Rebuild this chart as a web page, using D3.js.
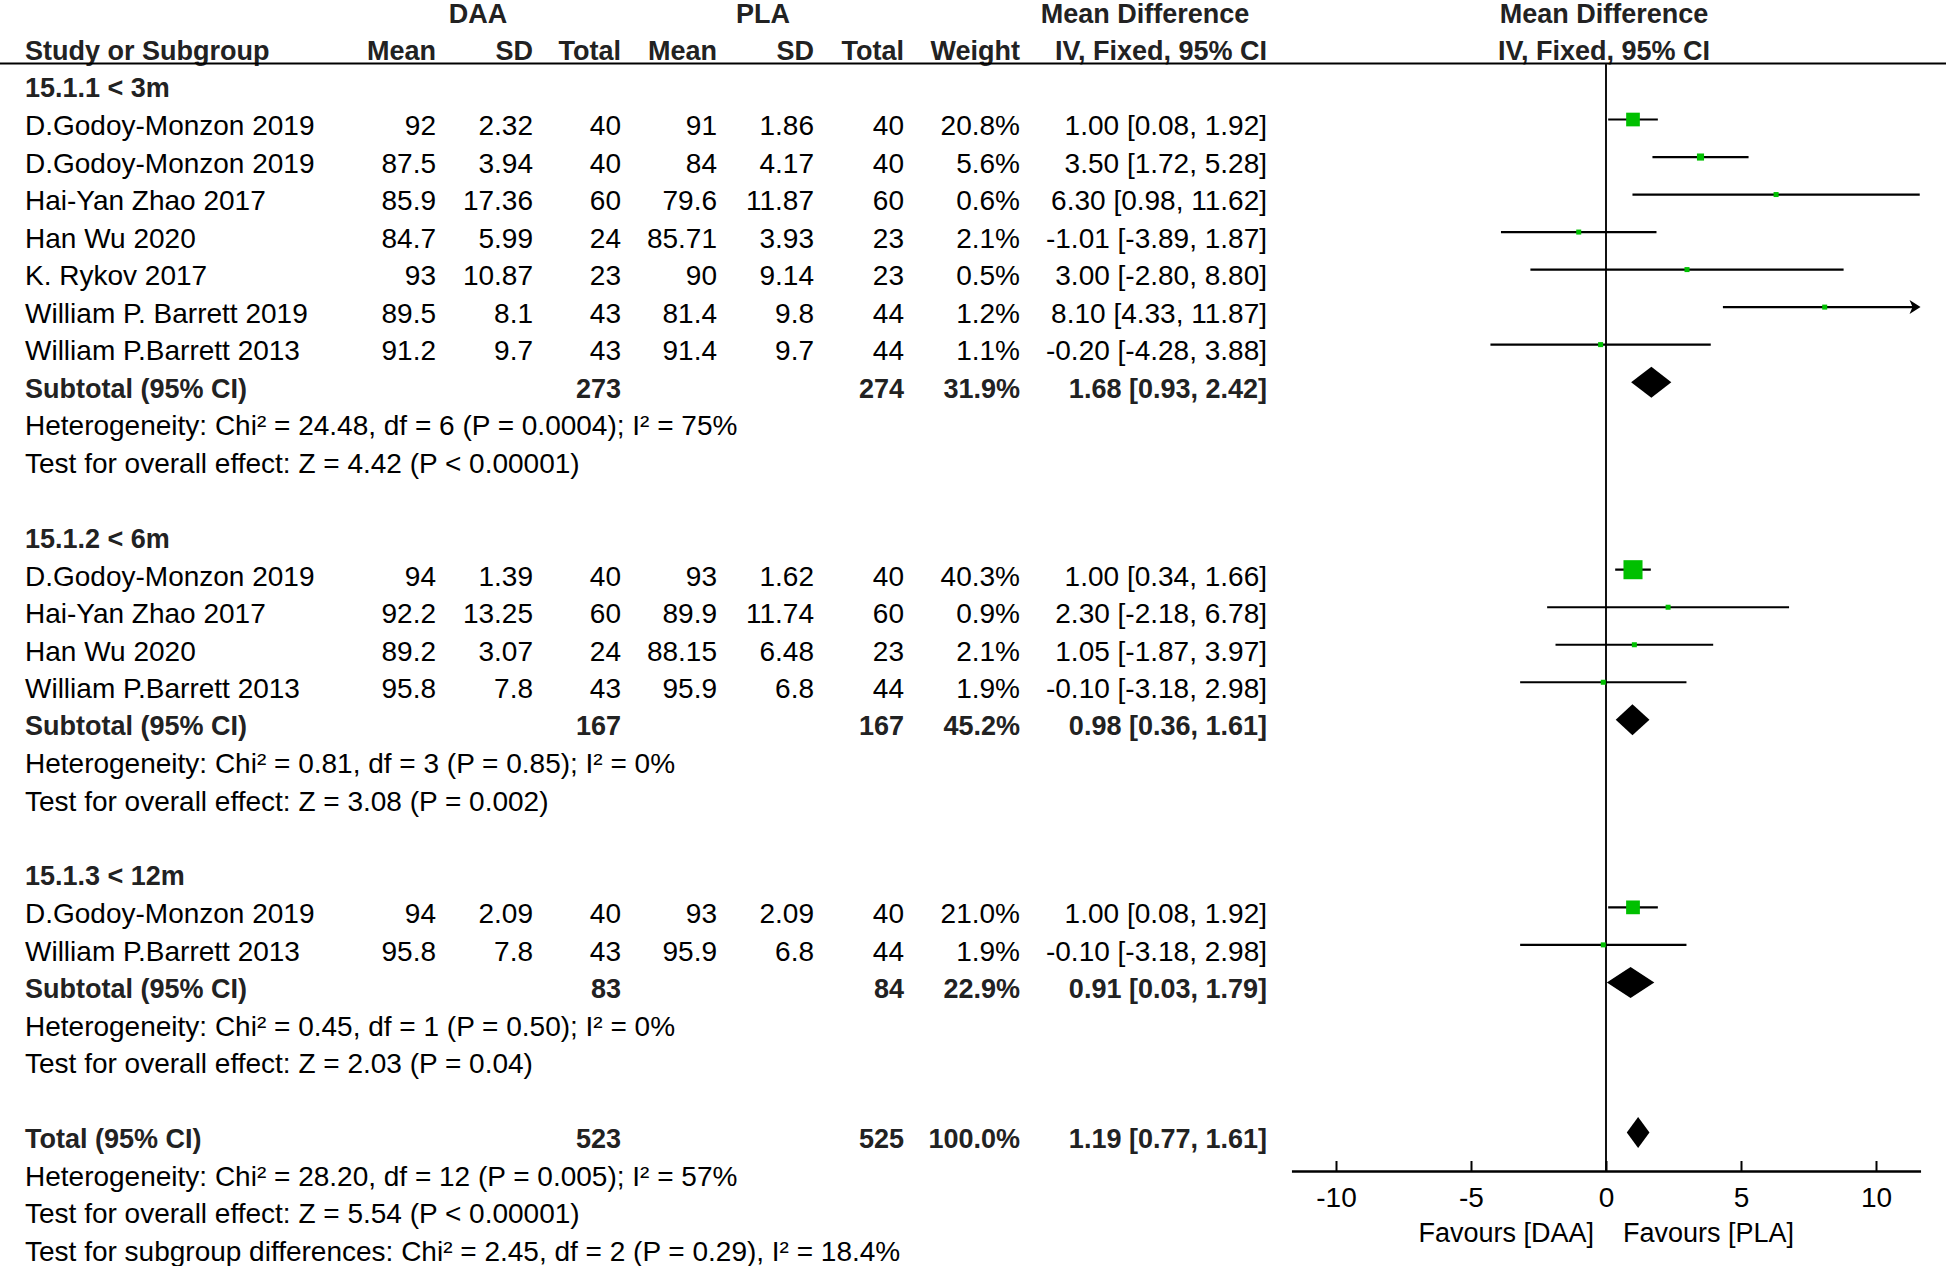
<!DOCTYPE html>
<meta charset="utf-8">
<style>
body { margin: 0; background: #fff; }
svg text { font-family: "Liberation Sans", Arial, sans-serif; font-size: 28px; fill: #000; }
svg text.b { font-weight: bold; font-size: 27px; fill: #222; }
</style>
<svg width="1946" height="1266"></svg>
<script src="https://d3js.org/d3.v7.min.js"></script>
<script>
// ---- data ----
var groupLabels = ["15.1.1 < 3m", "15.1.2 < 6m", "15.1.3 < 12m"];
var studyGroup = [0, 0, 0, 0, 0, 0, 0, 1, 1, 1, 1, 2, 2];
var studyNames = ["D.Godoy-Monzon 2019", "D.Godoy-Monzon 2019", "Hai-Yan Zhao 2017", "Han Wu 2020",
  "K. Rykov 2017", "William P. Barrett 2019", "William P.Barrett 2013",
  "D.Godoy-Monzon 2019", "Hai-Yan Zhao 2017", "Han Wu 2020", "William P.Barrett 2013",
  "D.Godoy-Monzon 2019", "William P.Barrett 2013"];
var daaMean = [92, 87.5, 85.9, 84.7, 93, 89.5, 91.2, 94, 92.2, 89.2, 95.8, 94, 95.8];
var daaSD = [2.32, 3.94, 17.36, 5.99, 10.87, 8.1, 9.7, 1.39, 13.25, 3.07, 7.8, 2.09, 7.8];
var daaN = [40, 40, 60, 24, 23, 43, 43, 40, 60, 24, 43, 40, 43];
var plaMean = [91, 84, 79.6, 85.71, 90, 81.4, 91.4, 93, 89.9, 88.15, 95.9, 93, 95.9];
var plaSD = [1.86, 4.17, 11.87, 3.93, 9.14, 9.8, 9.7, 1.62, 11.74, 6.48, 6.8, 2.09, 6.8];
var plaN = [40, 40, 60, 23, 23, 44, 44, 40, 60, 23, 44, 40, 44];
var weight = [20.8, 5.6, 0.6, 2.1, 0.5, 1.2, 1.1, 40.3, 0.9, 2.1, 1.9, 21.0, 1.9];
var md = [1.00, 3.50, 6.30, -1.01, 3.00, 8.10, -0.20, 1.00, 2.30, 1.05, -0.10, 1.00, -0.10];
var ciLow = [0.08, 1.72, 0.98, -3.89, -2.80, 4.33, -4.28, 0.34, -2.18, -1.87, -3.18, 0.08, -3.18];
var ciHigh = [1.92, 5.28, 11.62, 1.87, 8.80, 11.87, 3.88, 1.66, 6.78, 3.97, 2.98, 1.92, 2.98];

var subDaaN = [273, 167, 83];
var subPlaN = [274, 167, 84];
var subWeight = [31.9, 45.2, 22.9];
var subMd = [1.68, 0.98, 0.91];
var subLow = [0.93, 0.36, 0.03];
var subHigh = [2.42, 1.61, 1.79];
var subHet = ["Heterogeneity: Chi² = 24.48, df = 6 (P = 0.0004); I² = 75%",
  "Heterogeneity: Chi² = 0.81, df = 3 (P = 0.85); I² = 0%",
  "Heterogeneity: Chi² = 0.45, df = 1 (P = 0.50); I² = 0%"];
var subTest = ["Test for overall effect: Z = 4.42 (P < 0.00001)",
  "Test for overall effect: Z = 3.08 (P = 0.002)",
  "Test for overall effect: Z = 2.03 (P = 0.04)"];

var totalDaaN = 523, totalPlaN = 525, totalWeight = 100.0;
var totalMd = 1.19, totalLow = 0.77, totalHigh = 1.61;
var totalNotes = ["Heterogeneity: Chi² = 28.20, df = 12 (P = 0.005); I² = 57%",
  "Test for overall effect: Z = 5.54 (P < 0.00001)",
  "Test for subgroup differences: Chi² = 2.45, df = 2 (P = 0.29), I² = 18.4%"];

var tickValues = [-10, -5, 0, 5, 10];
var axisLimit = 11.65;

// ---- layout ----
var svg = d3.select("svg"),
    width = +svg.attr("width"),
    height = +svg.attr("height");

// plain hyphen for negatives, like RevMan
var loc = d3.formatLocale({decimal: ".", thousands: ",", grouping: [3], currency: ["", ""], minus: "-"});
var f2 = loc.format(".2f"), f1 = loc.format(".1f");
function ciText(m, lo, hi) { return f2(m) + " [" + f2(lo) + ", " + f2(hi) + "]"; }

// one entry per text line of the table
var lines = [];
groupLabels.forEach(function(g, gi) {
  lines.push({type: "group", g: gi});
  studyNames.forEach(function(n, i) { if (studyGroup[i] === gi) lines.push({type: "study", i: i}); });
  lines.push({type: "sub", g: gi});
  lines.push({type: "note", text: subHet[gi]});
  lines.push({type: "note", text: subTest[gi]});
  if (gi < groupLabels.length - 1) lines.push({type: "blank"});
});
lines.push({type: "blank"});
lines.push({type: "total"});
totalNotes.forEach(function(t) { lines.push({type: "note", text: t}); });

var y = d3.scaleLinear().domain([0, lines.length - 1]).range([88, 1251]);
var x = d3.scaleLinear().domain([-axisLimit, axisLimit]).range([1606 - 27 * axisLimit, 1606 + 27 * axisLimit]);
var markShift = -6;
var axisY = 1171, headLine = 63.5;

var colX = {dMean: 436, dSD: 533, dN: 621, pMean: 717, pSD: 814, pN: 904, w: 1020, ci: 1267};
var nameX = 25;

// headers
svg.append("text").attr("class", "b").attr("x", 478).attr("y", 14).attr("dy", "0.35em").attr("text-anchor", "middle").text("DAA");
svg.append("text").attr("class", "b").attr("x", 763).attr("y", 14).attr("dy", "0.35em").attr("text-anchor", "middle").text("PLA");
svg.append("text").attr("class", "b").attr("x", 1145).attr("y", 14).attr("dy", "0.35em").attr("text-anchor", "middle").text("Mean Difference");
svg.append("text").attr("class", "b").attr("x", x(0) - 2).attr("y", 14).attr("dy", "0.35em").attr("text-anchor", "middle").text("Mean Difference");
svg.append("text").attr("class", "b").attr("x", nameX).attr("y", 51).attr("dy", "0.35em").text("Study or Subgroup");
[["dMean", "Mean"], ["dSD", "SD"], ["dN", "Total"], ["pMean", "Mean"], ["pSD", "SD"], ["pN", "Total"], ["w", "Weight"], ["ci", "IV, Fixed, 95% CI"]]
  .forEach(function(h) {
    svg.append("text").attr("class", "b").attr("x", colX[h[0]]).attr("y", 51).attr("dy", "0.35em")
      .attr("text-anchor", "end").text(h[1]);
  });
svg.append("text").attr("class", "b").attr("x", x(0) - 2).attr("y", 51).attr("dy", "0.35em").attr("text-anchor", "middle").text("IV, Fixed, 95% CI");

svg.append("line").attr("x1", 0).attr("x2", width).attr("y1", headLine).attr("y2", headLine)
  .attr("stroke", "#000").attr("stroke-width", 2);

// table rows
var table = svg.append("g");
function cell(i, key, str, bold) {
  table.append("text").attr("class", bold ? "b" : null)
    .attr("x", colX[key]).attr("y", y(i)).attr("dy", "0.35em")
    .attr("text-anchor", "end").text(str);
}
function left(i, str, bold) {
  table.append("text").attr("class", bold ? "b" : null)
    .attr("x", nameX).attr("y", y(i)).attr("dy", "0.35em").text(str);
}

lines.forEach(function(l, li) {
  if (l.type === "group") left(li, groupLabels[l.g], true);
  else if (l.type === "note") left(li, l.text, false);
  else if (l.type === "study") {
    var i = l.i;
    left(li, studyNames[i], false);
    cell(li, "dMean", String(daaMean[i]));
    cell(li, "dSD", String(daaSD[i]));
    cell(li, "dN", String(daaN[i]));
    cell(li, "pMean", String(plaMean[i]));
    cell(li, "pSD", String(plaSD[i]));
    cell(li, "pN", String(plaN[i]));
    cell(li, "w", f1(weight[i]) + "%");
    cell(li, "ci", ciText(md[i], ciLow[i], ciHigh[i]));
  } else if (l.type === "sub") {
    var g = l.g;
    left(li, "Subtotal (95% CI)", true);
    cell(li, "dN", String(subDaaN[g]), true);
    cell(li, "pN", String(subPlaN[g]), true);
    cell(li, "w", f1(subWeight[g]) + "%", true);
    cell(li, "ci", ciText(subMd[g], subLow[g], subHigh[g]), true);
  } else if (l.type === "total") {
    left(li, "Total (95% CI)", true);
    cell(li, "dN", String(totalDaaN), true);
    cell(li, "pN", String(totalPlaN), true);
    cell(li, "w", f1(totalWeight) + "%", true);
    cell(li, "ci", ciText(totalMd, totalLow, totalHigh), true);
  }
});

// forest plot
var plot = svg.append("g");
plot.append("line").attr("x1", x(0)).attr("x2", x(0)).attr("y1", headLine).attr("y2", axisY)
  .attr("stroke", "#111").attr("stroke-width", 2);

var studyRows = lines.map(function(l, li) { return {l: l, li: li}; }).filter(function(d) { return d.l.type === "study"; });

plot.selectAll(".ci").data(studyRows).enter().append("line")
  .attr("x1", function(d) { return x(Math.max(ciLow[d.l.i], -axisLimit)); })
  .attr("x2", function(d) { return x(Math.min(ciHigh[d.l.i], axisLimit)) - (ciHigh[d.l.i] > axisLimit ? 6 : 0); })
  .attr("y1", function(d) { return y(d.li) + markShift; })
  .attr("y2", function(d) { return y(d.li) + markShift; })
  .attr("stroke", "#000").attr("stroke-width", 2.2);

// arrowheads for intervals running past the axis
plot.selectAll(".arrow").data(studyRows.filter(function(d) { return ciHigh[d.l.i] > axisLimit; })).enter().append("path")
  .attr("d", function(d) {
    var xe = x(axisLimit), yy = y(d.li) + markShift;
    return "M" + xe + "," + yy + "L" + (xe - 11) + "," + (yy - 7) + "L" + (xe - 8) + "," + yy + "L" + (xe - 11) + "," + (yy + 7) + "Z";
  })
  .attr("fill", "#000");

var boxSize = function(w) { return Math.max(5, 3.0 * Math.sqrt(w)); };
plot.selectAll(".box").data(studyRows).enter().append("rect")
  .attr("x", function(d) { return x(md[d.l.i]) - boxSize(weight[d.l.i]) / 2; })
  .attr("y", function(d) { return y(d.li) + markShift - boxSize(weight[d.l.i]) / 2; })
  .attr("width", function(d) { return boxSize(weight[d.l.i]); })
  .attr("height", function(d) { return boxSize(weight[d.l.i]); })
  .attr("fill", "#00c000");

// diamonds for subtotals and the overall total
var diamonds = [];
lines.forEach(function(l, li) {
  if (l.type === "sub") diamonds.push({li: li, m: subMd[l.g], lo: subLow[l.g], hi: subHigh[l.g]});
  if (l.type === "total") diamonds.push({li: li, m: totalMd, lo: totalLow, hi: totalHigh});
});
plot.selectAll(".dia").data(diamonds).enter().append("path")
  .attr("d", function(d) {
    var yy = y(d.li) + markShift, h = 15.5;
    return "M" + x(d.lo) + "," + yy + "L" + x(d.m) + "," + (yy - h) + "L" + x(d.hi) + "," + yy + "L" + x(d.m) + "," + (yy + h) + "Z";
  })
  .attr("fill", "#000");

// axis
var axis = d3.axisBottom(x).tickValues(tickValues).tickFormat(loc.format("d"))
  .tickSizeInner(-10).tickSizeOuter(0).tickPadding(16);
var ax = plot.append("g").attr("transform", "translate(0," + axisY + ")").call(axis);
ax.select(".domain").attr("stroke", "#000").attr("stroke-width", 2.5);
ax.selectAll(".tick line").attr("stroke", "#000").attr("stroke-width", 2);
ax.selectAll(".tick text").style("font-size", "28px").attr("fill", "#000");
ax.attr("font-family", null).attr("font-size", null);

plot.append("text").attr("x", x(0) - 12).attr("y", 1233).attr("dy", "0.35em").attr("text-anchor", "end").style("font-size", "27px").text("Favours [DAA]");
plot.append("text").attr("x", x(0) + 17).attr("y", 1233).attr("dy", "0.35em").style("font-size", "27px").text("Favours [PLA]");
</script>
